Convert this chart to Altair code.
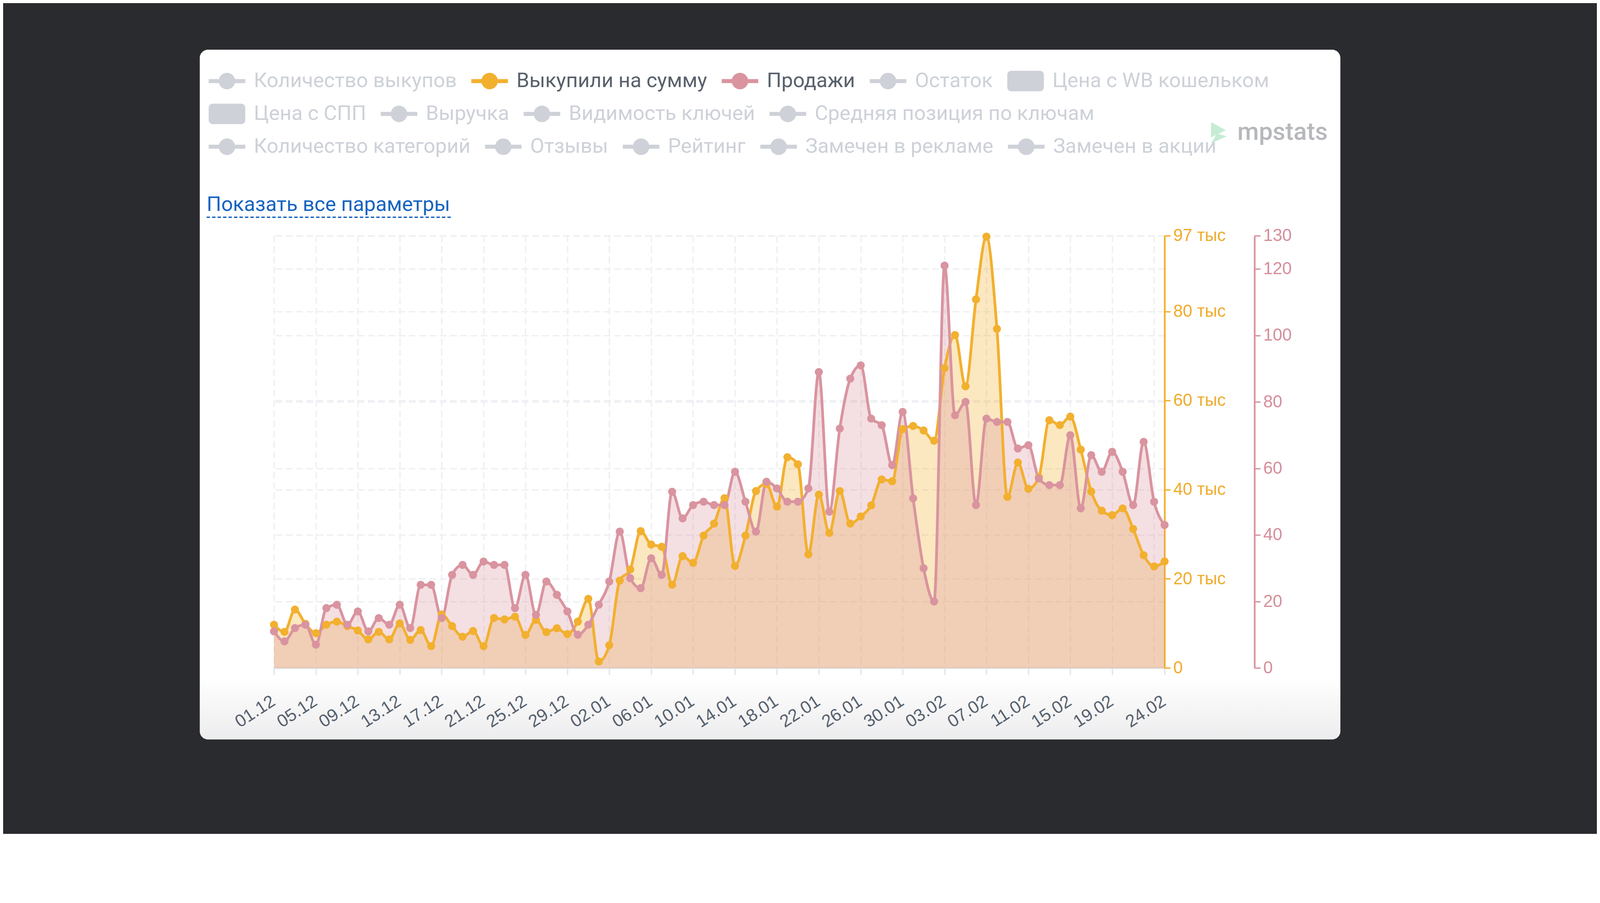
import altair as alt
import pandas as pd

# ---------------- data ----------------
DATES = [
    "01.12", "02.12", "03.12", "04.12", "05.12", "06.12", "07.12", "08.12", "09.12", "10.12",
    "11.12", "12.12", "13.12", "14.12", "15.12", "16.12", "17.12", "18.12", "19.12", "20.12",
    "21.12", "22.12", "23.12", "24.12", "25.12", "26.12", "27.12", "28.12", "29.12", "30.12", "31.12",
    "01.01", "02.01", "03.01", "04.01", "05.01", "06.01", "07.01", "08.01", "09.01", "10.01",
    "11.01", "12.01", "13.01", "14.01", "15.01", "16.01", "17.01", "18.01", "19.01", "20.01",
    "21.01", "22.01", "23.01", "24.01", "25.01", "26.01", "27.01", "28.01", "29.01", "30.01", "31.01",
    "01.02", "02.02", "03.02", "04.02", "05.02", "06.02", "07.02", "08.02", "09.02", "10.02",
    "11.02", "12.02", "13.02", "14.02", "15.02", "16.02", "17.02", "18.02", "19.02", "20.02",
    "21.02", "22.02", "23.02", "24.02",
]

# "Выкупили на сумму", rubles
BOUGHT_SUM = [
    9700, 8100, 13100, 9900, 7800, 9700, 10400, 9400, 8400, 6400,
    8100, 6400, 10000, 6300, 8500, 4900, 12000, 9400, 7000, 8300,
    4900, 11200, 10900, 11500, 7400, 10800, 8050, 8900, 7600, 10400,
    15500, 1450, 5100, 19600, 22100, 30700, 27700, 27200, 18700, 25100,
    23600, 29700, 32400, 38100, 22900, 29700, 39700, 41300, 36200, 47300,
    45700, 25500, 38900, 30300, 39700, 32400, 34000, 36500, 42300, 41900,
    53600, 54300, 53300, 51000, 67300, 74700, 63200, 82700, 96800, 76100,
    38400, 46100, 40200, 42800, 55600, 54500, 56400, 49000, 39600, 35300,
    34300, 35800, 31200, 25300, 22800, 23900,
]

# "Продажи", pieces
SALES = [
    11, 8, 12, 13, 7, 18, 19, 13, 17, 11,
    15, 13, 19, 12, 25, 25, 15, 28, 31, 28,
    32, 31, 31, 18, 28, 16, 26, 22, 17, 10,
    13, 19, 26, 41, 27, 24, 33, 28, 53, 45,
    49, 50, 49, 49, 59, 50, 41, 56, 54, 50,
    50, 54, 89, 47, 72, 87, 91, 75, 73, 61,
    77, 51, 30, 20, 121, 76, 80, 49, 75, 74,
    74, 66, 67, 57, 55, 55, 70, 48, 64, 59,
    65, 59, 49, 68, 50, 43,
]

X_TICKS = ["01.12", "05.12", "09.12", "13.12", "17.12", "21.12", "25.12", "29.12",
           "02.01", "06.01", "10.01", "14.01", "18.01", "22.01", "26.01", "30.01",
           "03.02", "07.02", "11.02", "15.02", "19.02", "23.02", "24.02"]
HIDDEN_TICK = "23.02"
SUM_TICKS = [0, 20000, 40000, 60000, 80000, 97000]
SALES_TICKS = [0, 20, 40, 60, 80, 100, 120, 130]

LEGEND_ROW1 = ["Количество выкупов", "Выкупили на сумму", "Продажи", "Остаток", "Цена с WB кошельком"]
LEGEND_ROW2 = ["Цена с СПП", "Выручка", "Видимость ключей", "Средняя позиция по ключам"]
LEGEND_ROW3 = ["Количество категорий", "Отзывы", "Рейтинг", "Замечен в рекламе", "Замечен в акции"]
ACTIVE = ["Выкупили на сумму", "Продажи"]

TITLE_TEXT = "Показать все параметры"
LOGO_TEXT = "mpstats"

# ---------------- styles ----------------
ORANGE = "#F2B02F"
ORANGE_TXT = "#F0AC2A"
PINK = "#D9949F"
PINK_TXT = "#D58F9C"
GREY_SYM = "#CED1D7"
GREY_TXT = "#CDD1D8"
DARK_TXT = "#58616C"
GRID = "#EEF0F3"
DARK_BG = "#2A2B2F"

W, H = 2604, 1264
PAD_L, PAD_T, PAD_R, PAD_B = 792, 529, 1264, 334

DOT = "M-1,-0.11H1V0.11H-1Z M0.45,0A0.45,0.45,0,1,1,-0.45,0A0.45,0.45,0,1,1,0.45,0Z"
BOX = ("M-1,-0.34A0.22,0.22,0,0,1,-0.78,-0.56H0.78A0.22,0.22,0,0,1,1,-0.34"
       "V0.34A0.22,0.22,0,0,1,0.78,0.56H-0.78A0.22,0.22,0,0,1,-1,0.34Z")
# dark surround: a large rectangle minus the rounded white card
FRAME = (f"M{-PAD_L - 20},{-PAD_T - 700}H{W + PAD_R + 14}V{H + PAD_B + 420}H{-PAD_L - 20}Z "
         "M-193,-544A24,24,0,0,0,-217,-520V1449A24,24,0,0,0,-193,1473"
         "H3094A24,24,0,0,0,3118,1449V-520A24,24,0,0,0,3094,-544Z")
ICON = "M-0.75,-1L0.65,-0.25L-0.75,0.45Z M-0.2,0.08L0.75,0.32L-0.75,1Z"

df = pd.DataFrame({"date": DATES, "sum": BOUGHT_SUM, "sales": SALES})
one = pd.DataFrame({"k": [0]})

x_axis = alt.Axis(
    values=X_TICKS,
    labelExpr=f"datum.value == '{HIDDEN_TICK}' ? '' : datum.label",
    tickOpacity={"condition": {"test": f"datum.value == '{HIDDEN_TICK}'", "value": 0}, "value": 1},
    labelAngle=-33, labelAlign="right", labelBaseline="top",
    labelFont="Liberation Sans", labelFontSize=51, labelColor="#5A6470",
    labelPadding=52, labelOffset=-15, labelOverlap=False,
    tickSize=20, tickWidth=4, tickColor="#E3E5E9",
    domainColor="#E3E5E9", domainWidth=6,
    grid=True, gridColor=GRID, gridDash=[20, 10], gridWidth=4,
    title=None,
)
X = alt.X("date:O", sort=DATES, scale=alt.Scale(type="point", padding=0, domain=DATES), axis=x_axis)

sum_axis = alt.Axis(
    orient="right", offset=0, values=SUM_TICKS,
    labelExpr="datum.value == 0 ? '0' : round(datum.value / 1000) + ' тыс'",
    labelFont="Liberation Sans", labelFontSize=50, labelColor=ORANGE_TXT, labelPadding=8,
    labelFlush=False, labelOverlap=False,
    tickSize=17, tickWidth=4, tickColor=ORANGE, domainColor=ORANGE, domainWidth=5,
    grid=True, gridColor=GRID, gridDash=[20, 10], gridWidth=4, title=None,
)
sales_axis = alt.Axis(
    orient="right", offset=263, values=SALES_TICKS,
    labelFont="Liberation Sans", labelFontSize=50, labelColor=PINK_TXT, labelPadding=8,
    labelFlush=False, labelOverlap=False,
    tickSize=17, tickWidth=4, tickColor=PINK, domainColor=PINK, domainWidth=5,
    grid=True, gridColor=GRID, gridDash=[20, 10], gridWidth=4, title=None,
)
sum_scale = alt.Scale(domain=[0, 97000], nice=False, zero=True)
sales_scale = alt.Scale(domain=[0, 130], nice=False, zero=True)

base = alt.Chart(df)
sum_area = base.mark_area(fill=ORANGE, fillOpacity=0.3, interpolate="monotone").encode(
    x=X, y=alt.Y("sum:Q", scale=sum_scale, axis=sum_axis))
sales_area = base.mark_area(fill=PINK, fillOpacity=0.3, interpolate="monotone").encode(
    x=X, y=alt.Y("sales:Q", scale=sales_scale, axis=sales_axis))
sum_line = base.mark_line(color=ORANGE, strokeWidth=8, interpolate="monotone").encode(
    x=X, y=alt.Y("sum:Q", scale=sum_scale, axis=None))
sales_line = base.mark_line(color=PINK, strokeWidth=8, interpolate="monotone").encode(
    x=X, y=alt.Y("sales:Q", scale=sales_scale, axis=None))
sum_pts = base.mark_circle(color=ORANGE, size=560, opacity=1).encode(
    x=X, y=alt.Y("sum:Q", scale=sum_scale, axis=None))
sales_pts = base.mark_circle(color=PINK, size=560, opacity=1).encode(
    x=X, y=alt.Y("sales:Q", scale=sales_scale, axis=None))

active_test = " || ".join(f"datum.label == '{a}'" for a in ACTIVE)


def legend_row(items, colors, shapes, lx, ly):
    leg = alt.Legend(
        title=None, orient="none", legendX=lx, legendY=ly, direction="horizontal",
        labelFont="Roboto", labelFontSize=60,
        labelColor=alt.ExprRef(f"({active_test}) ? '{DARK_TXT}' : '{GREY_TXT}'"),
        labelOffset=25, columnPadding=42, labelLimit=3000, padding=0,
        symbolSize=11449, symbolStrokeWidth=0, symbolOpacity=1,
    )
    return alt.Chart(pd.DataFrame({"item": items})).transform_filter("false").mark_point(
        filled=True, opacity=1).encode(
        fill=alt.Fill("item:N", scale=alt.Scale(domain=items, range=colors), legend=leg),
        shape=alt.Shape("item:N", scale=alt.Scale(domain=items, range=shapes), legend=leg),
    )


row1_colors = [ORANGE if i == ACTIVE[0] else PINK if i == ACTIVE[1] else GREY_SYM for i in LEGEND_ROW1]
leg1 = legend_row(LEGEND_ROW1, row1_colors, [DOT, DOT, DOT, DOT, BOX], -191, -506)
leg2 = legend_row(LEGEND_ROW2, [GREY_SYM] * 4, [BOX, DOT, DOT, DOT], -191, -410)
leg3 = legend_row(LEGEND_ROW3, [GREY_SYM] * 5, [DOT] * 5, -191, -314)

deco = alt.Chart(one)
bottom_fade = deco.mark_rect(
    fill=alt.LinearGradient(
        gradient="linear", x1=0, y1=0, x2=0, y2=1,
        stops=[alt.GradientStop(color="rgba(40,40,60,0)", offset=0),
               alt.GradientStop(color="rgba(40,40,60,0.085)", offset=1)])
).encode(x=alt.value(-217), x2=alt.value(3118), y=alt.value(1290), y2=alt.value(1473))

title_txt = deco.mark_text(text=TITLE_TEXT, align="left", baseline="alphabetic",
                           font="Roboto", fontSize=60, color="#1763BF").encode(
    x=alt.value(-197), y=alt.value(-73))
underline = deco.mark_rule(color="#1763BF", strokeWidth=4, strokeDash=[10, 6]).encode(
    x=alt.value(-197), x2=alt.value(520), y=alt.value(-54))
logo_txt = deco.mark_text(text=LOGO_TEXT, align="left", baseline="alphabetic",
                          font="Roboto", fontSize=72, fontWeight=500, color="#B6B8BC").encode(
    x=alt.value(2817), y=alt.value(-280))
logo_icon = deco.mark_point(shape=ICON, filled=True, fill="#C6ECD3", opacity=1,
                            strokeWidth=0, size=3844).encode(
    x=alt.value(2763), y=alt.value(-301))
frame = deco.mark_point(shape=FRAME, filled=True, fill=DARK_BG, opacity=1,
                        strokeWidth=0, size=4).encode(
    x=alt.value(0), y=alt.value(0))

chart = alt.layer(
    sum_area, sales_area, sum_line, sales_line, sum_pts, sales_pts,
    leg1, leg2, leg3,
    bottom_fade, title_txt, underline, logo_txt, logo_icon, frame,
).resolve_scale(
    y="independent", fill="independent", shape="independent"
).resolve_legend(
    fill="independent", shape="independent"
).properties(
    width=W, height=H,
    padding={"left": PAD_L, "top": PAD_T, "right": PAD_R, "bottom": PAD_B},
    autosize=alt.AutoSizeParams(type="none"),
).configure(background="#ffffff").configure_view(stroke=None)

chart.save("out.html", embed_options={"renderer": "svg", "actions": False})
